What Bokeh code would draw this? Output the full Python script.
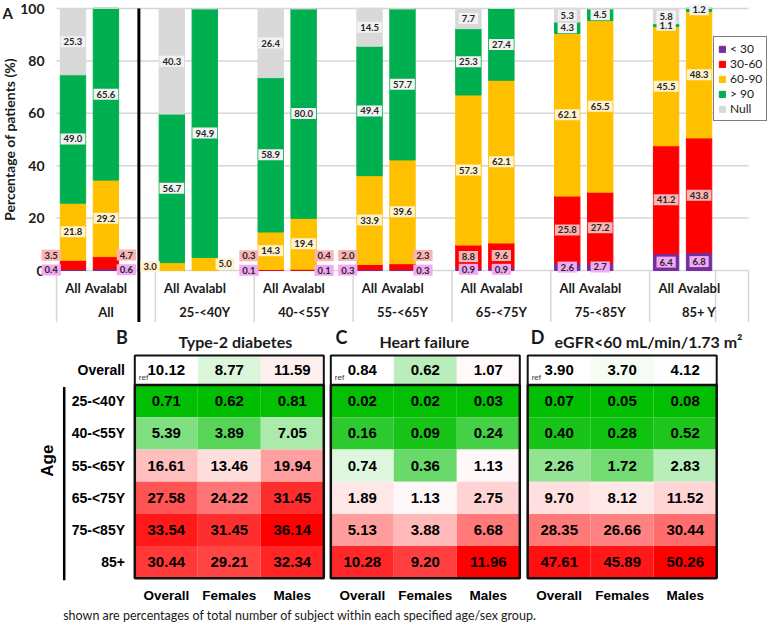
import math
from bokeh.plotting import figure
from bokeh.models import (ColumnDataSource, Range1d, Legend, LegendItem, LinearColorMapper)
from bokeh.layouts import column
from bokeh.core.properties import value
from bokeh.transform import transform
from bokeh.embed import file_html
from bokeh.resources import INLINE

# ---------------- data: panel A (stacked bars, % of patients) ----------------
age_groups = ["All", "25-<40Y", "40-<55Y", "55-<65Y", "65-<75Y", "75-<85Y", "85+ Y"]
bar_kinds = ["All", "Avalabl"]
egfr_classes = ["< 30", "30-60", "60-90", "> 90", "Null"]
# order of bars: for each age group -> All, Avalabl
lt30 = [0.4, 0.6, 0.0, 0.0, 0.1, 0.1, 0.3, 0.3, 0.9, 0.9, 2.6, 2.7, 6.4, 6.8]
r30_60 = [3.5, 4.7, 0.0, 0.0, 0.3, 0.4, 2.0, 2.3, 8.8, 9.6, 25.8, 27.2, 41.2, 43.8]
r60_90 = [21.8, 29.2, 3.0, 5.0, 14.3, 19.4, 33.9, 39.6, 57.3, 62.1, 62.1, 65.5, 45.5, 48.3]
gt90 = [49.0, 65.6, 56.7, 94.9, 58.9, 80.0, 49.4, 57.7, 25.3, 27.4, 4.3, 4.5, 1.1, 1.2]
null = [25.3, 0.0, 40.3, 0.0, 26.4, 0.0, 14.5, 0.0, 7.7, 0.0, 5.3, 0.0, 5.8, 0.0]
y_ticks = [0, 20, 40, 60, 80, 100]
y_title = "Percentage of patients (%)"

# ---------------- data: panels B-D (heatmaps, %) ----------------
heat_rows = ["25-<40Y", "40-<55Y", "55-<65Y", "65-<75Y", "75-<85Y", "85+"]
heat_cols = ["Overall", "Females", "Males"]
t2d_overall = [10.12, 8.77, 11.59]
t2d = [[0.71, 0.62, 0.81], [5.39, 3.89, 7.05], [16.61, 13.46, 19.94],
       [27.58, 24.22, 31.45], [33.54, 31.45, 36.14], [30.44, 29.21, 32.34]]
hf_overall = [0.84, 0.62, 1.07]
hf = [[0.02, 0.02, 0.03], [0.16, 0.09, 0.24], [0.74, 0.36, 1.13],
      [1.89, 1.13, 2.75], [5.13, 3.88, 6.68], [10.28, 9.20, 11.96]]
egfr_overall = [3.90, 3.70, 4.12]
egfr = [[0.07, 0.05, 0.08], [0.40, 0.28, 0.52], [2.26, 1.72, 2.83],
        [9.70, 8.12, 11.52], [28.35, 26.66, 30.44], [47.61, 45.89, 50.26]]
footnote = "shown are percentages of total number of subject within each specified age/sex group."

# ---------------- styles ----------------
CAL_NAME = "Lato"
CAL = value(CAL_NAME)
ARIAL = value("Liberation Sans")
TXT = "#1a1a1a"
bar_colors = ["#7030A0", "#FF0000", "#FFC000", "#00B050", "#D9D9D9"]
label_bg = ["#F2A8F2", "#FAB4B4", "#FFF2CC", "#F2F2F2", "#F2F2F2"]
GRID = "#D6D6D6"

W = 768
HA = 322
HH = 301

# panel A geometry (frame covers the whole figure)
SLOT_PX = 692 / 21.0          # one category slot in px
X0 = -56 / SLOT_PX            # left of first slot
X1 = 21 + 20 / SLOT_PX
PX_PER_UNIT = 2.62
Y1 = 100 + 8 / PX_PER_UNIT
YMIN = 100 - (HA - 8) / PX_PER_UNIT

# ================= Panel A =================
pA = figure(width=W, height=HA, x_range=Range1d(X0, X1), y_range=Range1d(YMIN, Y1),
            output_backend="svg", toolbar_location=None, x_axis_type=None, y_axis_type=None,
            min_border=0)
pA.outline_line_color = None

# gridlines + y tick labels + y title
pA.segment(x0=[0] * len(y_ticks), y0=y_ticks, x1=[21] * len(y_ticks), y1=y_ticks,
           line_color=GRID, line_width=1.5)
pA.text(x=[-12 / SLOT_PX] * len(y_ticks), y=y_ticks, text=[str(t) for t in y_ticks],
        text_font=CAL, text_font_style="bold", text_font_size="14px", text_color=TXT,
        text_align="right", text_baseline="middle")
pA.text(x=[(9 - 56) / SLOT_PX], y=[50], text=[y_title], angle=[math.pi / 2],
        text_font=CAL, text_font_style="bold", text_font_size="14px", text_color=TXT,
        text_align="center", text_baseline="middle")
pA.text(x=[(2 - 56) / SLOT_PX], y=[Y1 - 3 / PX_PER_UNIT], text=["A"],
        text_font=CAL, text_font_style="bold", text_font_size="15px", text_color=TXT,
        text_align="left", text_baseline="top")

n_bars = len(lt30)
bar_x = [3 * (b // 2) + 0.5 + (b % 2) for b in range(n_bars)]
src = ColumnDataSource(dict(x=bar_x, lt30=lt30, r30_60=r30_60, r60_90=r60_90, gt90=gt90, null=null))
stackers = ["lt30", "r30_60", "r60_90", "gt90", "null"]
rends = pA.vbar_stack(stackers, x="x", width=0.77, color=bar_colors, source=src)

# group separators and the heavy divider after "All"
sep_x = [3 * g for g in range(len(age_groups) + 1)] + [20]
pA.segment(x0=sep_x, y0=[0] * len(sep_x), x1=sep_x, y1=[YMIN] * len(sep_x),
           line_color=GRID, line_width=1.5)
pA.segment(x0=[2.5], y0=[YMIN], x1=[2.5], y1=[100], line_color="black", line_width=3)

# data labels
series = [lt30, r30_60, r60_90, gt90, null]
lx, ly, lt, lb = [], [], [], []
for b in range(n_bars):
    side = b % 2
    cum = 0.0
    crowded = (lt30[b] + r30_60[b]) < 6
    prev_y = -1e9
    for k, ser in enumerate(series):
        v = ser[b]
        bottom = cum
        cum += v
        if v <= 0:
            continue
        mid = bottom + v / 2
        if crowded and cum < 6:
            xx = bar_x[b] + (-0.66 if side == 0 else 0.62)
            yy = max(mid, prev_y + 5.6)
            prev_y = yy
        else:
            xx = bar_x[b]
            yy = mid
        lx.append(xx); ly.append(yy); lt.append("%.1f" % v); lb.append(label_bg[k])
lsrc = ColumnDataSource(dict(x=lx, y=ly, t=lt, bg=lb))
pA.text(x="x", y="y", text="t", source=lsrc, text_font=CAL, text_font_style="bold",
        text_font_size="9.5px", text_color="#262626", text_align="center",
        text_baseline="middle", background_fill_color="bg", padding=(3, 2))

# category labels (two levels)
sub_src = ColumnDataSource(dict(x=bar_x, y=[-6.7] * n_bars,
                                t=[bar_kinds[b % 2] for b in range(n_bars)]))
pA.text(x="x", y="y", text="t", source=sub_src, text_font=CAL, text_font_style="bold",
        text_font_size="13px", text_color=TXT, text_align="center", text_baseline="middle")
grp_src = ColumnDataSource(dict(x=[3 * g + 1.5 for g in range(len(age_groups))],
                                y=[-16.0] * len(age_groups), t=age_groups))
pA.text(x="x", y="y", text="t", source=grp_src, text_font=CAL, text_font_style="bold",
        text_font_size="13px", text_color=TXT, text_align="center", text_baseline="middle")

legend = Legend(items=[LegendItem(label=egfr_classes[i], renderers=[rends[i]]) for i in range(5)],
                location=(713, 201))
legend.label_text_font = CAL_NAME
legend.label_text_font_size = "12px"
legend.label_text_color = TXT
legend.glyph_width = 8
legend.glyph_height = 8
legend.label_height = 11
legend.spacing = 0
legend.padding = 4
legend.margin = 0
legend.label_standoff = 4
legend.border_line_color = "black"
legend.border_line_width = 1.5
legend.background_fill_alpha = 1.0
pA.add_layout(legend)

# ================= Panels B-D =================
pH = figure(width=W, height=HH, x_range=Range1d(0, W), y_range=Range1d(HH, 0),
            output_backend="svg", toolbar_location=None, x_axis_type=None, y_axis_type=None,
            min_border=0)
pH.outline_line_color = None

GREEN = (0, 190, 0)
RED = (255, 0, 0)


def diverging_palette(lo, mid, hi, n=512):
    pal = []
    for i in range(n):
        v = lo + (hi - lo) * (i + 0.5) / n
        if v <= mid:
            t = (v - lo) / (mid - lo)
            c = [GREEN[j] + (255 - GREEN[j]) * t for j in range(3)]
        else:
            t = (v - mid) / (hi - mid)
            c = [255 + (RED[j] - 255) * t for j in range(3)]
        pal.append("#%02x%02x%02x" % tuple(int(round(x)) for x in c))
    return pal


panels = [("B", "Type-2 diabetes", t2d_overall, t2d),
          ("C", "Heart failure", hf_overall, hf),
          ("D", "eGFR<60 mL/min/1.73 m²", egfr_overall, egfr)]
panel_left = [134.3, 330.3, 527.2]
letter_x = [121.5, 341.0, 537.0]
title_x = [178.0, 379.0, 554.0]   # left edges of the titles
CELL_W = 63.0
OV_TOP, OV_BOT = 32.9, 62.6
ROW_H = 32.2
AGE_TOP = OV_BOT
AGE_BOT = AGE_TOP + ROW_H * len(heat_rows)
row_centers = [AGE_TOP + ROW_H * (i + 0.5) for i in range(len(heat_rows))]
ov_center = (OV_TOP + OV_BOT) / 2

for pi, (letter, title, overall, rows) in enumerate(panels):
    L = panel_left[pi]
    allv = overall + [v for r in rows for v in r]
    lo, hi, mid = min(allv), max(allv), overall[0]
    mapper = LinearColorMapper(palette=diverging_palette(lo, mid, hi), low=lo, high=hi)
    left, right, top, bot, vals, txt, cx, cy = [], [], [], [], [], [], [], []
    for c in range(3):
        left.append(L + c * CELL_W); right.append(L + (c + 1) * CELL_W)
        top.append(OV_TOP); bot.append(OV_BOT); vals.append(overall[c])
        txt.append("%.2f" % overall[c]); cx.append(L + (c + 0.5) * CELL_W); cy.append(ov_center)
    for r, rv in enumerate(rows):
        for c in range(3):
            left.append(L + c * CELL_W); right.append(L + (c + 1) * CELL_W)
            top.append(AGE_TOP + r * ROW_H); bot.append(AGE_TOP + (r + 1) * ROW_H)
            vals.append(rv[c]); txt.append("%.2f" % rv[c])
            cx.append(L + (c + 0.5) * CELL_W); cy.append(row_centers[r])
    hs = ColumnDataSource(dict(left=left, right=right, top=top, bottom=bot, v=vals,
                               t=txt, cx=cx, cy=cy))
    pH.quad(left="left", right="right", top="top", bottom="bottom", source=hs,
            fill_color=transform("v", mapper), line_color=None)
    pH.text(x="cx", y="cy", text="t", source=hs, text_font=ARIAL, text_font_style="bold",
            text_font_size="15px", text_color="black", text_align="center", text_baseline="middle")
    # "ref" marker
    pH.text(x=[L + 4], y=[55.3], text=["ref"], text_font=ARIAL, text_font_size="8px",
            text_color="#333333", text_align="left", text_baseline="middle")
    # boxes
    R = L + 3 * CELL_W
    pH.quad(left=[L], right=[R], top=[OV_TOP], bottom=[OV_BOT], fill_color=None,
            line_color="#111111", line_width=2)
    pH.quad(left=[L], right=[R], top=[AGE_TOP], bottom=[AGE_BOT], fill_color=None,
            line_color="#111111", line_width=2.5)
    # titles
    pH.text(x=[letter_x[pi]], y=[14.0], text=[letter], text_font=CAL, text_font_style="bold",
            text_font_size="18px", text_color=TXT, text_align="center", text_baseline="middle")
    pH.text(x=[title_x[pi]], y=[18.5], text=[title], text_font=CAL, text_font_style="bold",
            text_font_size="16px", text_color=TXT, text_align="left", text_baseline="middle")
    # column labels
    pH.text(x=[L + (c + 0.5) * CELL_W for c in range(3)], y=[272.8] * 3, text=heat_cols,
            text_font=ARIAL, text_font_style="bold", text_font_size="13.5px", text_color="black",
            text_align="center", text_baseline="middle")

# row labels
pH.text(x=[124.5] * (len(heat_rows) + 1), y=[ov_center] + row_centers,
        text=["Overall"] + heat_rows, text_font=ARIAL, text_font_style="bold",
        text_font_size="14px", text_color="black", text_align="right", text_baseline="middle")
# Age bracket
pH.segment(x0=[63.7], y0=[AGE_TOP + 2], x1=[63.7], y1=[AGE_BOT + 2], line_color="black", line_width=2.5)
pH.text(x=[47.0], y=[138.2], text=["Age"], angle=[math.pi / 2], text_font=ARIAL,
        text_font_style="bold", text_font_size="17px", text_color="black",
        text_align="center", text_baseline="middle")
# footnote
pH.text(x=[62.7], y=[293.0], text=[footnote], text_font=CAL, text_font_size="12.5px",
        text_color=TXT, text_align="left", text_baseline="middle")

layout = column(pA, pH, spacing=0)
open("out.html", "w").write(file_html(layout, INLINE))
